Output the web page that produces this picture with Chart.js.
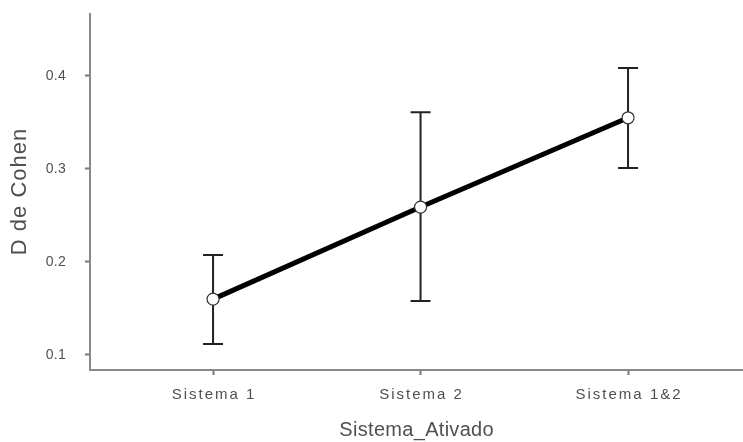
<!DOCTYPE html>
<html><head><meta charset="utf-8">
<script src="https://cdn.jsdelivr.net/npm/chart.js@4/dist/chart.umd.min.js"></script>
<style>html,body{margin:0;padding:0;background:#fff;}#wrap{width:743px;height:442px;}</style>
</head><body><div id="wrap"><canvas id="c"></canvas></div>
<script>
const categories = ["Sistema 1", "Sistema 2", "Sistema 1&2"];
const means = [0.159, 0.258, 0.354];
const upper = [0.2065, 0.360, 0.4075];
const lower = [0.1108, 0.157, 0.300];
const yTicks = [0.1, 0.2, 0.3, 0.4];
const xTitle = "Sistema_Ativado";
const yTitle = "D de Cohen";

const errorBars = {
  id: 'errorBars',
  beforeDatasetsDraw(chart) {
    const {ctx, scales: {x, y}} = chart;
    ctx.save();
    ctx.strokeStyle = '#222';
    ctx.lineWidth = 2;
    categories.forEach((c, i) => {
      const px = x.getPixelForValue(i);
      const t = y.getPixelForValue(upper[i]);
      const b = y.getPixelForValue(lower[i]);
      ctx.beginPath();
      ctx.moveTo(px, t); ctx.lineTo(px, b);
      ctx.moveTo(px - 10, t); ctx.lineTo(px + 10, t);
      ctx.moveTo(px - 10, b); ctx.lineTo(px + 10, b);
      ctx.stroke();
    });
    ctx.restore();
  }
};

const axisText = {
  id: 'axisText',
  afterDraw(chart) {
    const {ctx, scales: {x, y}, chartArea} = chart;
    ctx.save();
    ctx.fillStyle = '#505050';
    ctx.textBaseline = 'middle';
    // y tick labels
    ctx.textAlign = 'right';
    ctx.font = '14px "Liberation Sans", Arial, sans-serif';
    ctx.letterSpacing = '0.3px';
    yTicks.forEach(v => {
      ctx.fillText(v.toFixed(1), chartArea.left - 24, y.getPixelForValue(v) + 1);
    });
    // x tick labels
    ctx.textAlign = 'center';
    ctx.font = '15px "Liberation Sans", Arial, sans-serif';
    ctx.letterSpacing = '2px';
    categories.forEach((c, i) => {
      ctx.fillText(c, x.getPixelForValue(i) + 1, chartArea.bottom + 25);
    });
    // x title
    ctx.font = '20px "Liberation Sans", Arial, sans-serif';
    ctx.letterSpacing = '0.3px';
    ctx.fillText(xTitle, (chartArea.left + chartArea.right) / 2 + 0.15, 430);
    // y title
    ctx.font = '22px "Liberation Sans", Arial, sans-serif';
    ctx.letterSpacing = '1px';
    ctx.translate(20, (chartArea.top + chartArea.bottom) / 2);
    ctx.rotate(-Math.PI / 2);
    ctx.fillText(yTitle, 0.5, 0);
    ctx.restore();
  }
};

new Chart(document.getElementById('c'), {
  type: 'line',
  data: {
    datasets: [{
      data: means.map((v, i) => ({x: i, y: v})),
      borderColor: '#000',
      borderWidth: 5,
      pointRadius: 6,
      pointBackgroundColor: '#fff',
      pointBorderColor: '#333',
      pointBorderWidth: 1.2,
      tension: 0
    }]
  },
  options: {
    responsive: true,
    maintainAspectRatio: false,
    animation: false,
    layout: {autoPadding: false, padding: {top: 14, right: 0, left: 0, bottom: 0}},
    plugins: {legend: {display: false}, tooltip: {enabled: false}},
    scales: {
      x: {
        type: 'linear',
        min: -0.593,
        max: 2.554,
        afterBuildTicks: s => { s.ticks = categories.map((c, i) => ({value: i})); },
        afterFit: s => { s.height = 72; },
        ticks: {display: false},
        grid: {display: true, drawOnChartArea: false, drawTicks: true, tickLength: 5, color: '#777', tickWidth: 2},
        border: {display: true, color: '#888', width: 2}
      },
      y: {
        min: 0.0828,
        max: 0.4656,
        afterBuildTicks: s => { s.ticks = yTicks.map(v => ({value: v})); },
        afterFit: s => { s.width = 90; },
        ticks: {display: false},
        grid: {display: true, drawOnChartArea: false, drawTicks: true, tickLength: 5, color: '#777', tickWidth: 2},
        border: {display: true, color: '#888', width: 2}
      }
    }
  },
  plugins: [errorBars, axisText]
});
</script></body></html>
